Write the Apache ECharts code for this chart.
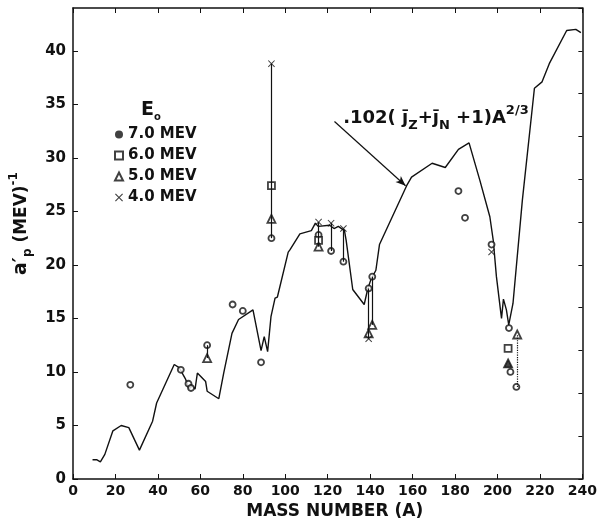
<!DOCTYPE html>
<html>
<head>
<meta charset="utf-8">
<script src="https://cdn.jsdelivr.net/npm/echarts@6/dist/echarts.min.js"></script>
<style>
  html, body { margin: 0; padding: 0; background: #fff; }
  #chart { width: 600px; height: 525px; }
</style>
</head>
<body>
<div id="chart"></div>
<script>
// theoretical curve .102(jz + jn + 1)A^2/3
const curve = [
  [9.2, 1.8], [11.1, 1.8], [12.9, 1.6], [15, 2.3], [18.8, 4.5], [22.7, 5.0], [26.3, 4.8],
  [31.3, 2.7], [37.5, 5.4], [39.4, 7.1], [47.7, 10.7], [50, 10.4], [53.1, 9.3], [54.7, 8.4],
  [56.2, 8.7], [57.5, 8.4], [58.6, 9.9], [62.5, 9.1], [63.2, 8.2], [68.7, 7.5], [71, 9.9],
  [74.9, 13.6], [78, 14.9], [84.8, 15.8], [88.6, 12.0], [90.1, 13.3], [91.7, 11.9], [93.3, 15.2],
  [95.2, 16.9], [96.3, 17.0], [101.4, 21.2], [102.2, 21.4], [106.9, 22.9], [112.3, 23.2],
  [114.2, 23.9], [115.5, 23.6], [120.9, 23.7], [123, 23.4], [125, 23.6], [127.9, 23.2],
  [128.7, 22.3], [131.8, 17.7], [137.2, 16.3], [138.8, 17.7], [140.3, 18.6], [142.7, 19.5],
  [144.4, 21.9], [157.2, 27.4], [159.5, 28.2], [169.2, 29.5], [175.4, 29.1], [181.6, 30.8],
  [186.6, 31.4], [191.7, 27.9], [196.4, 24.5], [198, 22.3], [199.5, 18.9], [201.4, 15.8],
  [201.9, 15.0], [202.8, 16.8], [204.2, 15.8], [205.3, 14.4], [207.3, 16.4], [211.7, 26.0],
  [217.4, 36.5], [221, 37.1], [224.4, 38.8], [232.6, 41.9], [236.9, 42.0], [239.3, 41.7]
];

// measured points, one array per bombarding energy E0
const e7 = [
  [27, 8.8], [50.8, 10.2], [54.4, 8.9], [55.6, 8.5], [63.2, 12.5], [75.2, 16.3], [80, 15.7],
  [88.6, 10.9], [93.5, 22.5], [115.7, 22.8], [121.6, 21.3], [127.4, 20.3], [139.3, 17.8],
  [141, 18.9], [181.6, 26.9], [184.7, 24.4], [197.2, 21.9], [205.4, 14.1], [206.1, 10.0],
  [208.9, 8.6]
];
const e6 = [[93.5, 27.4], [115.7, 22.3], [205, 12.2]];
const e5 = [[63.2, 11.3], [93.5, 24.3], [115.7, 21.7], [139.3, 13.6], [141, 14.4], [209.3, 13.5]];
const e5filled = [[205, 10.8]];
const e4 = [[93.5, 38.8], [115.7, 24.0], [121.6, 23.9], [127.4, 23.4], [139.3, 13.1], [197.2, 21.2]];

// vertical bars joining points at the same A: [A, low, high, dotted]
const joins = [
  [63.2, 11.3, 12.5, 0], [93.5, 22.5, 38.8, 0], [115.7, 21.7, 24.0, 0], [121.6, 21.3, 23.9, 0],
  [127.4, 20.3, 23.4, 0], [139.3, 13.1, 17.8, 0], [141, 14.4, 18.9, 0], [209.3, 8.6, 13.5, 1]
];

// arrow from label to curve
const arrowFrom = [123.2, 33.4];
const arrowTo = [156.7, 27.4];
const labelAt = [127.3, 33.7];

const xTicks = { min: 0, max: 240, step: 20 };
const yTicks = { min: 0, max: 44, step: 5, rightStep: 4 };

const ink = '#111';
const font = 'DejaVu Sans';
const xMark = 'path://M0,1L1,0L5,4L9,0L10,1L6,5L10,9L9,10L5,6L1,10L0,9L4,5Z';

let chart = echarts.init(document.getElementById('chart'));

let markLines = joins.map(j => [
  { coord: [j[0], j[1]], lineStyle: { type: j[3] ? 'dotted' : 'solid', width: 1.2, color: ink } },
  { coord: [j[0], j[2]] }
]);
markLines.push([
  { coord: arrowFrom, lineStyle: { type: 'solid', width: 1.2, color: ink } },
  { coord: arrowTo, symbol: 'arrow', symbolSize: [6, 10] }
]);

let dots = {
  type: 'scatter', z: 4, symbolSize: 6,
  itemStyle: { color: '#fff', borderColor: ink, borderWidth: 1.8 }
};

let options = {
  animation: false,
  backgroundColor: '#fff',
  textStyle: { fontFamily: font, color: ink },
  grid: { left: 73, right: 13, top: 8, bottom: 45 },
  title: {
    text: '{e|E}{o|o}',
    left: 136, top: 93,
    textStyle: {
      rich: {
        e: { fontFamily: font, fontWeight: 'bold', fontSize: 19, color: ink, lineHeight: 24 },
        o: { fontFamily: font, fontWeight: 'bold', fontSize: 10, color: ink, verticalAlign: 'bottom', lineHeight: 10 }
      }
    }
  },
  legend: {
    orient: 'vertical', left: 109, top: 122,
    itemWidth: 8, itemHeight: 8, itemGap: 6,
    textStyle: { fontFamily: font, fontWeight: 'bold', fontSize: 15, color: ink },
    data: [
      { name: '7.0 MEV', icon: 'circle', itemStyle: { color: ink, borderWidth: 0 } },
      { name: '6.0 MEV', icon: 'rect' },
      { name: '5.0 MEV', icon: 'triangle' },
      { name: '4.0 MEV', icon: xMark, itemStyle: { color: ink, borderWidth: 0 } }
    ]
  },
  xAxis: [{
    type: 'value', min: xTicks.min, max: xTicks.max, interval: xTicks.step,
    name: 'MASS NUMBER (A)', nameLocation: 'middle', nameGap: 24,
    nameTextStyle: { fontFamily: font, fontWeight: 'bold', fontSize: 17, color: ink, padding: [0, 0, 0, 14] },
    axisLine: { onZero: false, lineStyle: { color: ink, width: 1.5 } },
    axisTick: { inside: true, length: 5, lineStyle: { color: ink } },
    axisLabel: { fontFamily: font, fontWeight: 'bold', fontSize: 14, color: ink, margin: 5 },
    splitLine: { show: false }
  }, {
    type: 'value', position: 'top', min: xTicks.min, max: xTicks.max, interval: xTicks.step,
    axisLine: { onZero: false, lineStyle: { color: ink, width: 1.5 } },
    axisTick: { inside: true, length: 5, lineStyle: { color: ink } },
    axisLabel: { show: false },
    splitLine: { show: false }
  }],
  yAxis: [{
    type: 'value', min: yTicks.min, max: yTicks.max, interval: yTicks.step,
    name: '{a|a′}{p|p}{m| (MEV)}{u|-1}',
    nameLocation: 'middle', nameRotate: 90, nameGap: 30,
    nameTextStyle: {
      padding: [0, 0, 0, 40],
      rich: {
        a: { fontFamily: font, fontWeight: 'bold', fontSize: 19, color: ink, lineHeight: 26 },
        p: { fontFamily: font, fontWeight: 'bold', fontSize: 12, color: ink, verticalAlign: 'bottom', lineHeight: 12 },
        m: { fontFamily: font, fontWeight: 'bold', fontSize: 17, color: ink, lineHeight: 26 },
        u: { fontFamily: font, fontWeight: 'bold', fontSize: 12, color: ink, verticalAlign: 'top', lineHeight: 4 }
      }
    },
    axisLine: { onZero: false, lineStyle: { color: ink, width: 1.5 } },
    axisTick: { inside: true, length: 5, lineStyle: { color: ink } },
    axisLabel: { fontFamily: font, fontWeight: 'bold', fontSize: 15, color: ink, margin: 7, showMaxLabel: false },
    splitLine: { show: false }
  }, {
    type: 'value', position: 'right', min: yTicks.min, max: yTicks.max, interval: yTicks.rightStep,
    axisLine: { onZero: false, lineStyle: { color: ink, width: 1.5 } },
    axisTick: { inside: true, length: 4, lineStyle: { color: ink } },
    axisLabel: { show: false },
    splitLine: { show: false }
  }],
  series: [{
    name: 'curve', type: 'line', data: curve, symbol: 'none', z: 2,
    lineStyle: { color: ink, width: 1.4 },
    markLine: {
      silent: true, symbol: ['none', 'none'], label: { show: false },
      lineStyle: { type: 'solid', color: ink },
      data: markLines
    },
    markPoint: {
      silent: true, symbolSize: 0,
      label: {
        show: true, position: 'right', distance: 0,
        formatter: '{t|.102( j̄}{s|Z}{t|+j̄}{s|N}{t| +1)A}{u|2/3}',
        rich: {
          t: { fontFamily: font, fontWeight: 'bold', fontSize: 18, color: ink, lineHeight: 28 },
          s: { fontFamily: font, fontWeight: 'bold', fontSize: 13, color: ink, verticalAlign: 'bottom', lineHeight: 12 },
          u: { fontFamily: font, fontWeight: 'bold', fontSize: 13, color: ink, verticalAlign: 'top', lineHeight: 2 }
        }
      },
      data: [{ coord: labelAt }]
    }
  }, Object.assign({}, dots, {
    name: '7.0 MEV', data: e7, symbol: 'circle', symbolSize: 6
  }), Object.assign({}, dots, {
    name: '6.0 MEV', data: e6, symbol: 'rect', symbolSize: 7
  }), Object.assign({}, dots, {
    name: '5.0 MEV', data: e5.concat(e5filled.map(p => ({ value: p, itemStyle: { color: ink } }))),
    symbol: 'triangle', symbolSize: 8
  }), Object.assign({}, dots, {
    name: '4.0 MEV', data: e4, symbol: xMark, symbolSize: 7,
    itemStyle: { color: ink, borderWidth: 0 }
  })]
};
options && chart.setOption(options);
</script>
</body>
</html>
